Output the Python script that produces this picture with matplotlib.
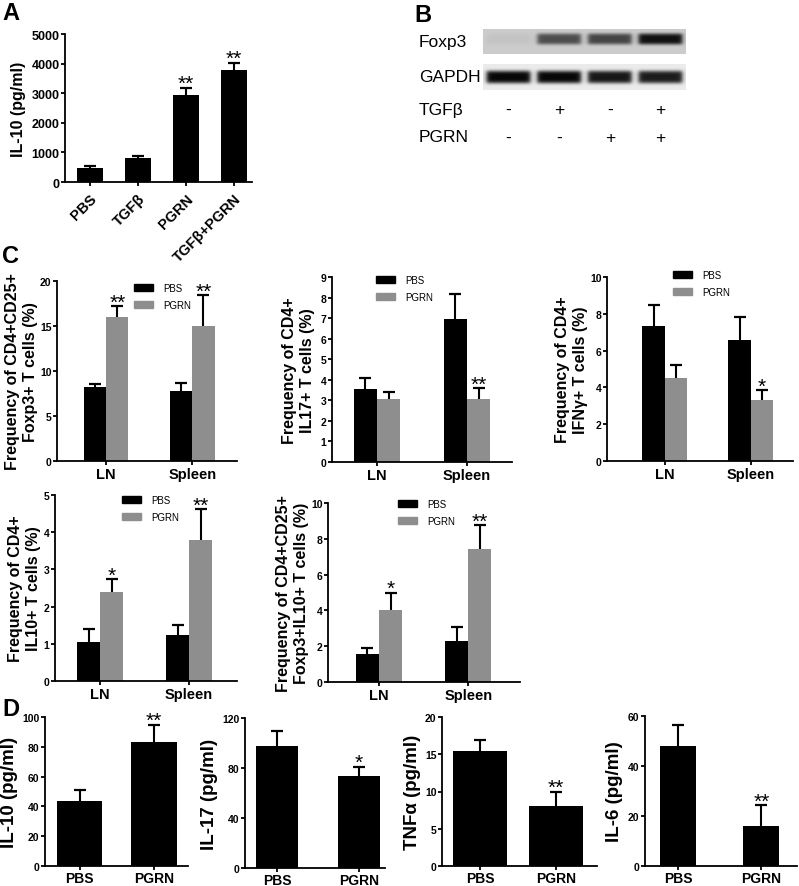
import numpy as np
import matplotlib
matplotlib.use("Agg")
import matplotlib.pyplot as plt
import matplotlib.transforms as mtransforms
from matplotlib.patches import Patch

plt.rcParams['font.family'] = ['Liberation Sans', 'DejaVu Sans']

# ---- data ----
# A: IL-10 in culture
a_groups = ['PBS', 'TGFβ', 'PGRN', 'TGFβ+PGRN']
a_mean = [460, 800, 2930, 3800]
a_err = [80, 70, 250, 230]
a_stars = ['', '', '**', '**']

# B: western blot band strength (0 = none, 1 = black)
b_lanes_tgfb = ['-', '+', '-', '+']
b_lanes_pgrn = ['-', '-', '+', '+']
b_foxp3 = [0.04, 0.62, 0.66, 0.92]
b_gapdh = [0.97, 0.97, 0.9, 0.88]

# C: flow cytometry, LN / Spleen
c_sites = ['LN', 'Spleen']
c1_pbs, c1_pbs_err = [8.2, 7.8], [0.4, 0.85]
c1_pgrn, c1_pgrn_err = [16.05, 15.0], [1.15, 3.4]
c1_stars = ['**', '**']
c2_pbs, c2_pbs_err = [3.57, 6.97], [0.53, 1.18]
c2_pgrn, c2_pgrn_err = [3.05, 3.05], [0.35, 0.55]
c2_stars = ['', '**']
c3_pbs, c3_pbs_err = [7.34, 6.6], [1.16, 1.23]
c3_pgrn, c3_pgrn_err = [4.5, 3.3], [0.72, 0.55]
c3_stars = ['', '*']
c4_pbs, c4_pbs_err = [1.05, 1.25], [0.36, 0.26]
c4_pgrn, c4_pgrn_err = [2.39, 3.79], [0.34, 0.83]
c4_stars = ['*', '**']
c5_pbs, c5_pbs_err = [1.55, 2.3], [0.34, 0.75]
c5_pgrn, c5_pgrn_err = [4.02, 7.44], [0.98, 1.32]
c5_stars = ['*', '**']

# D: serum cytokines
d_groups = ['PBS', 'PGRN']
d_il10, d_il10_err, d_il10_stars = [43.4, 83.1], [7.8, 11.7], ['', '**']
d_il17, d_il17_err, d_il17_stars = [97.6, 73.7], [12.0, 7.3], ['', '*']
d_tnfa, d_tnfa_err, d_tnfa_stars = [15.5, 8.1], [1.4, 1.9], ['', '**']
d_il6, d_il6_err, d_il6_stars = [48.2, 16.1], [8.3, 8.3], ['', '**']

GRAY = '#8e8e8e'
W, H = 799, 887
fig = plt.figure(figsize=(W / 100, H / 100), dpi=100)


def px_axes(l, t, r, b):
    return fig.add_axes([l / W, 1 - b / H, (r - l) / W, (b - t) / H])


def style(ax, yticks, fs=7.5):
    ax.spines['top'].set_visible(False)
    ax.spines['right'].set_visible(False)
    ax.spines['left'].set_linewidth(1.3)
    ax.spines['bottom'].set_linewidth(1.3)
    ax.set_ylim(yticks[0], yticks[-1])
    ax.set_yticks(yticks)
    ax.set_yticklabels([str(t) for t in yticks], fontsize=fs, fontweight='bold')
    ax.tick_params(direction='out', length=3, width=1.3)
    ax.tick_params(axis='y', pad=1)


def ylabel_at(ax, text, right_px, fs, ls=1.2):
    ax.set_ylabel(text, fontsize=fs, fontweight='bold', linespacing=ls)
    tr = mtransforms.blended_transform_factory(fig.transFigure, ax.transAxes)
    ax.yaxis.set_label_coords(right_px / W, 0.5, transform=tr)


def errs(ax, x, mean, err, cap=8.5):
    x = np.asarray(x, float)
    top = np.asarray(mean) + np.asarray(err)
    ax.vlines(x, mean, top, color='black', lw=1.5, zorder=3)
    ax.plot(x, top, ls='none', marker='_', ms=cap, mew=1.6, color='black', zorder=3)
    return top


def stars(ax, x, top, marks, fs=15):
    for xi, ti, s in zip(x, top, marks):
        if s:
            ax.annotate(s, (xi, ti), xytext=(0, -1), textcoords='offset points',
                        ha='center', va='baseline', fontsize=fs)


def letter(x, y, s):
    fig.text(x / W, 1 - y / H, s, fontsize=17, fontweight='bold', va='top', ha='left')


# ---- A ----
ax = px_axes(65, 35, 252, 183)
xa = np.arange(len(a_groups))
ax.bar(xa, a_mean, width=0.54, color='black', zorder=2)
top = errs(ax, xa, a_mean, a_err, cap=9)
stars(ax, xa, top, a_stars)
style(ax, list(range(0, 5001, 1000)), fs=9)
ax.set_xlim(-0.52, 3.38)
ax.set_xticks(xa)
ax.set_xticklabels(a_groups, rotation=45, ha='right', rotation_mode='anchor',
                   fontsize=10.5, fontweight='bold')
ylabel_at(ax, 'IL-10 (pg/ml)', 26, 11.5)
letter(2, 2, 'A')

# ---- B ----
letter(414, 4, 'B')
axb = px_axes(483, 30, 686, 91)
n = len(b_foxp3)


def strip(bands, bg, yc, sy):
    xx = np.linspace(0, n, 500)
    yy = np.linspace(0, 1, 60)[:, None]
    img = np.full((60, 500), bg)
    for i, v in enumerate(bands):
        edge = 1 / (1 + np.exp(-(0.43 - np.abs(xx - i - 0.5)) / 0.025))
        img = img * (1 - v * edge[None, :] * np.exp(-((yy - yc) / sy) ** 4))
    return np.clip(img, 0, 1)


axb.imshow(strip(b_foxp3, 0.8, 0.42, 0.22), cmap='gray', vmin=0, vmax=1,
           extent=(0, n, 0.41, 0), aspect='auto', interpolation='bilinear')
axb.imshow(strip(b_gapdh, 0.92, 0.5, 0.25), cmap='gray', vmin=0, vmax=1,
           extent=(0, n, 1, 0.574), aspect='auto', interpolation='bilinear')
axb.set_xlim(0, n)
axb.set_ylim(1, 0)
axb.axis('off')
tr = mtransforms.blended_transform_factory(axb.transData, fig.transFigure)
for lab, y in [('Foxp3', 42), ('GAPDH', 78), ('TGFβ', 110), ('PGRN', 138)]:
    fig.text(419 / W, 1 - y / H, lab, fontsize=12.5, va='center', ha='left')
for i in range(n):
    axb.text(i + 0.5, 1 - 110 / H, b_lanes_tgfb[i], transform=tr, fontsize=12.5,
             ha='center', va='center')
    axb.text(i + 0.5, 1 - 138 / H, b_lanes_pgrn[i], transform=tr, fontsize=12.5,
             ha='center', va='center')

# ---- C ----
letter(2, 245, 'C')
c_panels = [
    ((57, 282, 237, 462), (-0.57, 1.52), list(range(0, 21, 5)), c1_pbs, c1_pbs_err,
     c1_pgrn, c1_pgrn_err, c1_stars, 'Frequency of CD4+CD25+\nFoxp3+ T cells (%)', (134, 284), 38),
    ((332, 278, 512, 463), (-0.5, 1.5), list(range(0, 10)), c2_pbs, c2_pbs_err,
     c2_pgrn, c2_pgrn_err, c2_stars, 'Frequency of CD4+\nIL17+ T cells (%)', (376, 276), 315),
    ((607, 278, 793, 462), (-0.67, 1.49), list(range(0, 11, 2)), c3_pbs, c3_pbs_err,
     c3_pgrn, c3_pgrn_err, c3_stars, 'Frequency of CD4+\nIFNγ+ T cells (%)', (673, 271), 588),
    ((55, 496, 237, 682), (-0.51, 1.54), list(range(0, 6)), c4_pbs, c4_pbs_err,
     c4_pgrn, c4_pgrn_err, c4_stars, 'Frequency of CD4+\nIL10+ T cells (%)', (122, 496), 41),
    ((328, 504, 520, 683), (-0.57, 1.58), list(range(0, 11, 2)), c5_pbs, c5_pbs_err,
     c5_pgrn, c5_pgrn_err, c5_stars, 'Frequency of CD4+CD25+\nFoxp3+IL10+ T cells (%)', (398, 500), 309),
]
w = 0.26
for box, xl, yt, pbs, pbs_e, pgrn, pgrn_e, st, ylab, leg, ylx in c_panels:
    ax = px_axes(*box)
    xs = np.arange(len(c_sites))
    ax.bar(xs - w / 2, pbs, width=w, color='black', zorder=2)
    ax.bar(xs + w / 2, pgrn, width=w, color=GRAY, zorder=2)
    errs(ax, xs - w / 2, pbs, pbs_e)
    top = errs(ax, xs + w / 2, pgrn, pgrn_e)
    stars(ax, xs + w / 2, top, st)
    style(ax, yt)
    ax.set_xlim(*xl)
    ax.set_xticks(xs)
    ax.set_xticklabels(c_sites, fontsize=10.5, fontweight='bold')
    ax.tick_params(axis='x', pad=1.5)
    ylabel_at(ax, ylab, ylx, 11.5, ls=1.25)
    handles = [Patch(color='black', label='PBS'), Patch(color=GRAY, label='PGRN')]
    ax.legend(handles=handles, loc='upper left', bbox_to_anchor=(leg[0] / W, 1 - leg[1] / H),
              bbox_transform=fig.transFigure, frameon=False, fontsize=7, borderpad=0,
              borderaxespad=0, handlelength=2.0, handleheight=0.75, handletextpad=1.0,
              labelspacing=0.75)

# ---- D ----
letter(2, 698, 'D')
d_panels = [
    ((45, 718, 188, 867), (-0.47, 1.46), 0.61, list(range(0, 101, 20)), d_il10, d_il10_err,
     d_il10_stars, 'IL-10 (pg/ml)', 18),
    ((245, 719, 385, 869), (-0.39, 1.32), 0.51, list(range(0, 121, 40)), d_il17, d_il17_err,
     d_il17_stars, 'IL-17 (pg/ml)', 218),
    ((442, 718, 597, 867), (-0.5, 1.54), 0.70, list(range(0, 21, 5)), d_tnfa, d_tnfa_err,
     d_tnfa_stars, 'TNFα (pg/ml)', 421),
    ((645, 717, 797, 867), (-0.4, 1.43), 0.43, list(range(0, 61, 20)), d_il6, d_il6_err,
     d_il6_stars, 'IL-6 (pg/ml)', 623),
]
for box, xl, bw, yt, vals, ev, st, ylab, ylx in d_panels:
    ax = px_axes(*box)
    xs = np.arange(len(d_groups))
    ax.bar(xs, vals, width=bw, color='black', zorder=2)
    top = errs(ax, xs, vals, ev, cap=9)
    stars(ax, xs, top, st)
    style(ax, yt)
    ax.set_xlim(*xl)
    ax.set_xticks(xs)
    ax.set_xticklabels(d_groups, fontsize=10, fontweight='bold')
    ax.tick_params(axis='x', pad=0.5)
    ylabel_at(ax, ylab, ylx, 13.5)

fig.savefig('out.png', dpi=100)
